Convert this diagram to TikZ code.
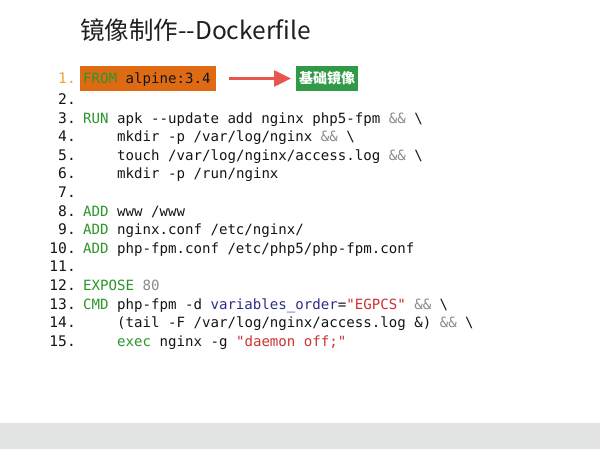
\documentclass[tikz,border=0pt]{standalone}
\usepackage{fontspec}
\setmonofont{DejaVu Sans Mono}
\newfontfamily\cjkfont{Noto Sans CJK SC}
\usetikzlibrary{arrows.meta}
\definecolor{kwgreen}{HTML}{2A962A}
\definecolor{opgray}{HTML}{8A8A8A}
\definecolor{strred}{HTML}{CC3333}
\definecolor{varblue}{HTML}{2E2E8A}
\definecolor{numorange}{HTML}{F2A23A}
\definecolor{boxorange}{HTML}{DE6B14}
\definecolor{boxgreen}{HTML}{309A46}
\definecolor{arrowred}{HTML}{E9564F}
\definecolor{barfill}{HTML}{E2E4E3}
\definecolor{codeink}{HTML}{151515}
\newcommand\kwd[1]{\textcolor{kwgreen}{#1}}
\newcommand\opg[1]{\textcolor{opgray}{#1}}
\newcommand\strr[1]{\textcolor{strred}{#1}}
\newcommand\varb[1]{\textcolor{varblue}{#1}}
\newcommand\dd{\mbox{-}\mbox{-}}
\newcommand\bsl{\textbackslash}
\begin{document}
\begin{tikzpicture}[x=1pt,y=-1pt,
  codeline/.style={anchor=base west,inner sep=0pt,text=codeink,
    font=\ttfamily\fontsize{14.1}{16}\selectfont},
  numline/.style={anchor=base east,inner sep=0pt,text=codeink,
    font=\ttfamily\fontsize{14.6}{16}\selectfont},
  linkarrow/.style={draw=arrowred,line width=2.6pt,
    -{Triangle[length=17pt,width=16pt]},shorten <=13pt,shorten >=5pt}]
\useasboundingbox (0,0) rectangle (600,449);
\fill[white] (0,0) rectangle (600,449);
\fill[barfill] (0,423) rectangle (600,449);
% title
\node[anchor=base west,inner sep=0pt,text=black!88,
  font=\cjkfont\fontsize{24.5}{28}\selectfont] (title) at (80,40)
  {镜像制作\dd Dockerfile};
% line 1 with orange box
\node[numline,text=numorange] (n1) at (76,83.5) {1.};
\node[codeline,fill=boxorange,inner xsep=3pt,text height=17.5pt,text depth=7.5pt]
  (c1) at (80,83.5) {\kwd{FROM} alpine:3.4\hspace*{2.5pt}};
\node[fill=boxgreen,text=white,inner xsep=3pt,inner ysep=0pt,minimum height=25pt,
  anchor=west,font=\cjkfont\bfseries\fontsize{14}{16}\selectfont]
  (base) at (296,78.5) {基础镜像};
\draw[linkarrow] (c1.east |- base.west) -- (base.west);
% lines 2..15
\foreach \n in {2,...,15}{
  \node[numline] (n\n) at (76,{104.5+(\n-2)*18.6}) {\n.};
}
\node[codeline] (c3) at (83,{104.5+1*18.6})
  {\kwd{RUN} apk \dd update add nginx php5-fpm \opg{\&\&} \bsl};
\node[codeline] (c4) at (117,{104.5+2*18.6})
  {mkdir -p /var/log/nginx \opg{\&\&} \bsl};
\node[codeline] (c5) at (117,{104.5+3*18.6})
  {touch /var/log/nginx/access.log \opg{\&\&} \bsl};
\node[codeline] (c6) at (117,{104.5+4*18.6})
  {mkdir -p /run/nginx};
\node[codeline] (c8) at (83,{104.5+6*18.6})
  {\kwd{ADD} www /www};
\node[codeline] (c9) at (83,{104.5+7*18.6})
  {\kwd{ADD} nginx.conf /etc/nginx/};
\node[codeline] (c10) at (83,{104.5+8*18.6})
  {\kwd{ADD} php-fpm.conf /etc/php5/php-fpm.conf};
\node[codeline] (c12) at (83,{104.5+10*18.6})
  {\kwd{EXPOSE} \opg{80}};
\node[codeline] (c13) at (83,{104.5+11*18.6})
  {\kwd{CMD} php-fpm -d \varb{variables\_order}=\strr{"EGPCS"} \opg{\&\&} \bsl};
\node[codeline] (c14) at (117,{104.5+12*18.6})
  {(tail -F /var/log/nginx/access.log \&) \opg{\&\&} \bsl};
\node[codeline] (c15) at (117,{104.5+13*18.6})
  {\kwd{exec} nginx -g \strr{"daemon off;"}};
\end{tikzpicture}
\end{document}
